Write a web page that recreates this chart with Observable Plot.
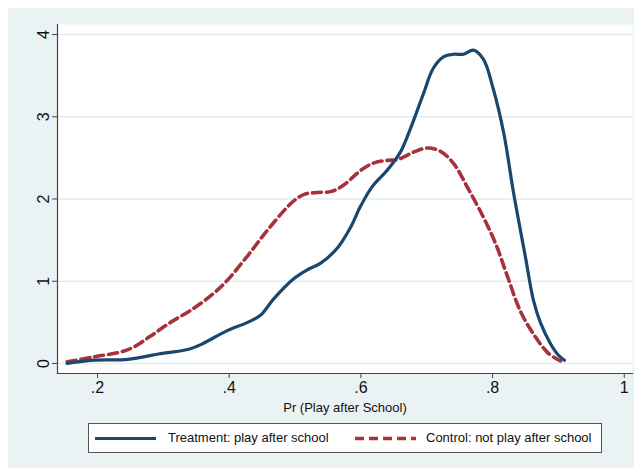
<!DOCTYPE html>
<html>
<head>
<meta charset="utf-8">
<script src="https://cdn.jsdelivr.net/npm/d3@7"></script>
<script src="https://cdn.jsdelivr.net/npm/@observablehq/plot@0.6"></script>
<style>
  html, body { margin: 0; padding: 0; background: #ffffff; }
  #wrap { position: absolute; left: 8px; top: 8px; width: 626px; height: 460px; background: #EAF2F3; font-family: "Liberation Sans", Arial, sans-serif; }
  #chart svg { display: block; }
  #legend { position: absolute; left: 80px; top: 415px; width: 512px; height: 28px; border: 1px solid #555; background: #fff; }
  #legend .item { position: absolute; top: 0; height: 28px; font-size: 13px; color: #111; line-height: 28px; }
  #legend svg { position: absolute; top: 0; }
</style>
</head>
<body>
<div id="wrap">
  <div id="chart"></div>
  <div id="legend"></div>
</div>
<script>
// Series: Treatment (play after school)
const treatX = [0.154,0.194,0.246,0.296,0.337,0.357,0.397,0.428,0.448,0.467,0.498,0.519,0.539,0.565,0.584,0.600,0.618,0.640,0.660,0.675,0.695,0.710,0.726,0.741,0.756,0.771,0.786,0.801,0.817,0.832,0.850,0.862,0.873,0.888,0.899,0.909];
const treatY = [0.00,0.04,0.05,0.12,0.17,0.23,0.40,0.50,0.59,0.78,1.03,1.14,1.22,1.41,1.65,1.92,2.16,2.35,2.57,2.85,3.28,3.59,3.73,3.76,3.76,3.81,3.70,3.34,2.80,2.07,1.29,0.77,0.49,0.24,0.11,0.04];
// Series: Control (not play after school)
const ctrlX = [0.154,0.194,0.235,0.255,0.280,0.311,0.346,0.376,0.397,0.428,0.458,0.488,0.500,0.515,0.535,0.554,0.574,0.600,0.620,0.640,0.656,0.680,0.701,0.721,0.741,0.762,0.786,0.805,0.823,0.842,0.862,0.884,0.903];
const ctrlY = [0.02,0.08,0.14,0.20,0.33,0.50,0.67,0.85,1.01,1.31,1.62,1.90,1.99,2.06,2.08,2.09,2.17,2.35,2.44,2.47,2.48,2.57,2.62,2.58,2.43,2.14,1.78,1.45,1.05,0.64,0.36,0.13,0.03];
const xTicks = [0.2,0.4,0.6,0.8,1];
const yTicks = [0,1,2,3,4];
const seriesNames = ["Treatment: play after school","Control: not play after school"];
const colors = ["#1A476F","#A8323B"];
const xLabel = "Pr (Play after School)";

const treat = treatX.map((x,i)=>({x, y: treatY[i]}));
const ctrl = ctrlX.map((x,i)=>({x, y: ctrlY[i]}));
const fmt = d => d === 1 ? "1" : String(d).replace(/^0\./, ".");

const chart = Plot.plot({
  width: 626,
  height: 415,
  marginLeft: 49,
  marginRight: 2,
  marginTop: 16,
  marginBottom: 50,
  style: { background: "#EAF2F3", fontFamily: "Liberation Sans, Arial, sans-serif", overflow: "visible" },
  x: { domain: [0.1393, 1.0125] },
  y: { domain: [-0.1216, 4.122] },
  marks: [
    Plot.frame({ fill: "white", stroke: null }),
    Plot.gridY(yTicks, { stroke: "#E3EDF0", strokeOpacity: 1, strokeWidth: 1.5 }),
    Plot.frame({ anchor: "left", stroke: "#444", strokeWidth: 1.2 }),
    Plot.frame({ anchor: "bottom", stroke: "#444", strokeWidth: 1.2 }),
    Plot.axisY(yTicks, { tickSize: 5, tickPadding: 4, tickRotate: -90, fontSize: 16, stroke: "#444", fill: "#111", label: null, tickFormat: d => String(d) }),
    Plot.axisX(xTicks, { tickSize: 5, tickPadding: 3, fontSize: 16, stroke: "#444", fill: "#111", tickFormat: fmt, label: xLabel, labelAnchor: "center", labelArrow: "none", labelOffset: 38 }),
    Plot.line(ctrl, { x: "x", y: "y", stroke: colors[1], strokeWidth: 3.6, strokeDasharray: "9,5", curve: "catmull-rom" }),
    Plot.line(treat, { x: "x", y: "y", stroke: colors[0], strokeWidth: 3.2, curve: "catmull-rom" })
  ]
});
document.getElementById("chart").appendChild(chart);
chart.querySelectorAll("g[aria-label='x-axis label'] text").forEach(t => t.setAttribute("font-size", "13"));

// Legend
const leg = document.getElementById("legend");
const items = [
  { name: seriesNames[0], color: colors[0], dash: null, sx: 6, tx: 79 },
  { name: seriesNames[1], color: colors[1], dash: "9,5", sx: 266, tx: 337 }
];
items.forEach(it => {
  const s = d3.create("svg").attr("width", 62).attr("height", 28).style("left", it.sx + "px");
  s.append("line").attr("x1", 0).attr("x2", 61).attr("y1", 14.5).attr("y2", 14.5)
    .attr("stroke", it.color).attr("stroke-width", it.dash ? 3.6 : 3.2)
    .attr("stroke-dasharray", it.dash);
  leg.appendChild(s.node());
  const t = document.createElement("div");
  t.className = "item";
  t.style.left = it.tx + "px";
  t.textContent = it.name;
  leg.appendChild(t);
});
</script>
</body>
</html>
